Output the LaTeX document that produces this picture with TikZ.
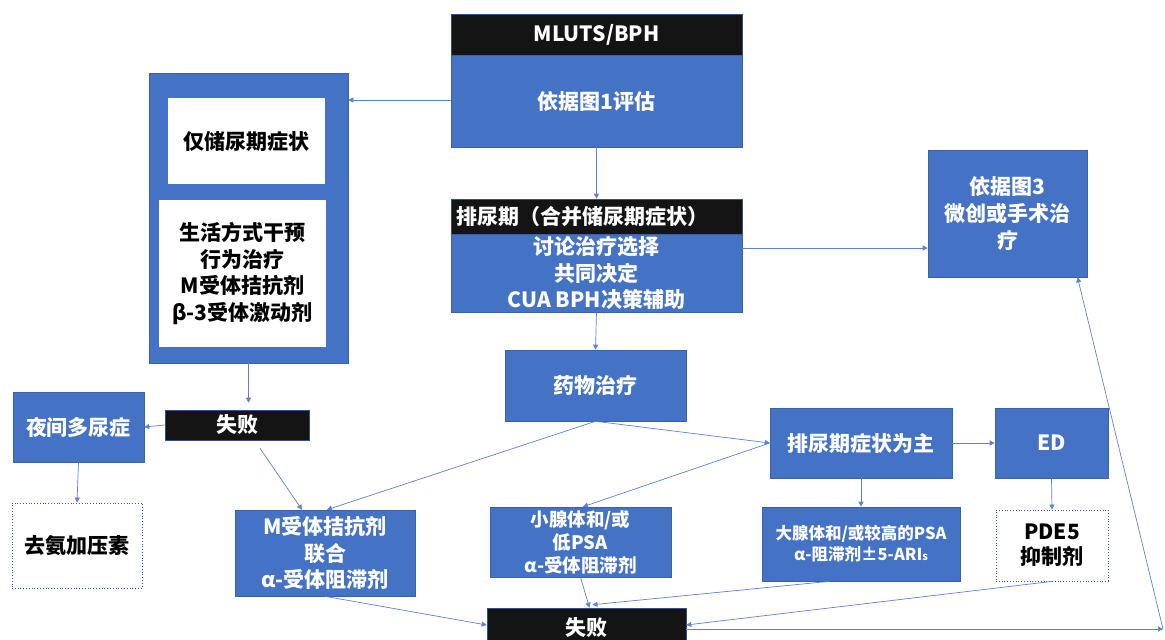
\documentclass[tikz,border=0pt]{standalone}
\usepackage{fontspec}
\setmainfont{Noto Sans CJK SC}
\usetikzlibrary{arrows.meta,calc}
\definecolor{boxblue}{HTML}{4472C4}
\definecolor{lineblue}{HTML}{5B82D6}
\definecolor{hdrblack}{HTML}{141414}
\begin{document}
\begin{tikzpicture}[x=1pt,y=-1pt,
  base/.style={rectangle, inner sep=0pt, align=center, font=\bfseries\fontsize{21}{26.7}\selectfont},
  bluebox/.style={base, fill=boxblue, draw=boxblue!85!black, line width=0.6pt, text=white},
  blackbox/.style={base, fill=hdrblack, draw=boxblue!70!black, line width=0.6pt, text=white},
  whitebox/.style={base, fill=white, draw=none, text=black},
  dotbox/.style={base, fill=white, draw=boxblue!80!black, dotted, line width=0.8pt, text=black},
  arr/.style={draw=lineblue, line width=0.7pt, -{Triangle[length=5pt,width=5pt]}},
  ln/.style={draw=lineblue, line width=0.7pt}
]
\useasboundingbox (0,0) rectangle (1165,640);
\fill[white] (0,0) rectangle (1165,640);

% top
\node[blackbox, minimum width=291, minimum height=41] (hdr1) at (596.5,34.5) {MLUTS/BPH};
\node[bluebox, minimum width=291, minimum height=92] (eval) at (596.5,101) {依据图1评估};

% left storage box
\node[bluebox, minimum width=199, minimum height=290] (outer) at (248.5,218) {};
\node[whitebox, minimum width=157, minimum height=86] (in1) at (246.5,141) {仅储尿期症状};
\node[whitebox, minimum width=167, minimum height=147] (in2) at (242.5,273.5) {生活方式干预\\行为治疗\\M受体拮抗剂\\β-3受体激动剂};

% voiding
\node[blackbox, minimum width=291, minimum height=35, text width=281, align=left, inner xsep=5pt] (hdr2) at (596.5,216.5) {排尿期（合并储尿期症状）};
\node[bluebox, minimum width=291, minimum height=78] (disc) at (596.5,273) {讨论治疗选择\\共同决定\\CUA BPH决策辅助};

\node[bluebox, minimum width=159, minimum height=127] (surg) at (1007.5,213.5) {依据图3\\微创或手术治\\疗};

\node[bluebox, minimum width=181, minimum height=71] (drug) at (595.5,385.5) {药物治疗};

\node[blackbox, minimum width=144, minimum height=30] (fail1) at (237,425) {失败};
\node[bluebox, minimum width=131, minimum height=70] (noct) at (78.5,427) {夜间多尿症};
\node[dotbox, minimum width=130, minimum height=85] (desmo) at (77,545.5) {去氨加压素};

\node[bluebox, minimum width=180, minimum height=86] (mcomb) at (325,553) {M受体拮抗剂\\联合\\α-受体阻滞剂};

\node[bluebox, minimum width=182, minimum height=70] (void) at (861,443) {排尿期症状为主};
\node[bluebox, minimum width=181, minimum height=70, font=\bfseries\fontsize{18.5}{23}\selectfont] (small) at (580.5,542) {小腺体和/或\\低PSA\\α-受体阻滞剂};
\node[bluebox, minimum width=113, minimum height=70] (ed) at (1051.5,443) {ED};
\node[bluebox, minimum width=198, minimum height=74, font=\bfseries\fontsize{16.5}{21}\selectfont] (large) at (861,544) {大腺体和/或较高的PSA\\α-阻滞剂±5-ARI{\fontsize{11}{11}\selectfont s}};
\node[dotbox, minimum width=112, minimum height=71, font=\bfseries\fontsize{21}{25}\selectfont] (pde) at (1052,545.5) {PDE5\\抑制剂};

\node[blackbox, minimum width=199, minimum height=40] (fail2) at (586.5,628) {失败};
\coordinate (corner) at (1163,629);

% connectors
\draw[arr] (eval.west |- 0,100) coordinate (a1) -- (a1 -| outer.east);
\draw[arr] (eval.south) -- (hdr2.north);
\draw[arr] ([yshift=25pt]disc.east) coordinate (a2) -- (a2 -| surg.west);
\draw[arr] (disc.south) -- (drug.north);
\draw[arr, shorten >=7pt] (outer.south) -- (outer.south |- fail1.north);
\draw[arr] (fail1.west) -- (noct.east);
\draw[arr] (noct.south) -- (desmo.north);
\draw[arr] ([xshift=23pt,yshift=-8pt]fail1.south) -- ([xshift=-23pt]mcomb.north);
\draw[arr] (drug.south) -- ([xshift=2pt]mcomb.north);
\draw[arr] (drug.south) -- (void.west);
\draw[arr] (void.west) -- ([xshift=2.5pt]small.north);
\draw[arr] (void.east) -- (ed.west);
\draw[arr] (void.south) -- (large.north);
\draw[arr] (ed.south) -- (pde.north);
\draw[arr] (small.south) -- ([xshift=3pt]fail2.north);
\draw[arr] ([xshift=-31pt]large.south) -- ([xshift=6pt,yshift=3pt]fail2.north);
\draw[arr] (mcomb.south) -- ([yshift=3pt]fail2.west);
\draw[arr] (pde.south) -- ([yshift=3pt]fail2.east);
\draw[arr] ([yshift=-1pt]fail2.east) -- (corner);
\draw[arr] (corner) -- ([xshift=70pt]surg.south);
\end{tikzpicture}
\end{document}
